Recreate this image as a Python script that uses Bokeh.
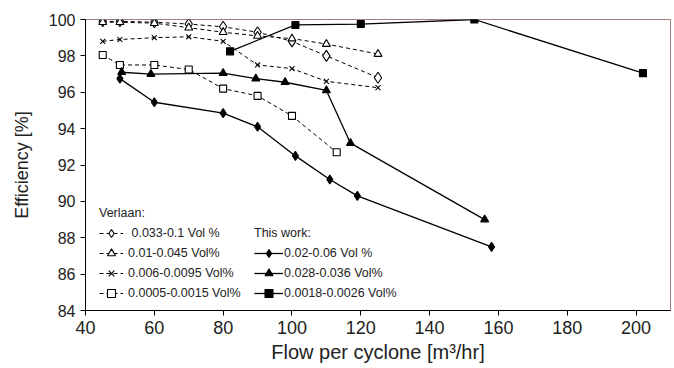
from bokeh.plotting import figure
from bokeh.models import Range1d, FixedTicker, Legend, LegendItem
from bokeh.embed import file_html
from bokeh.resources import INLINE

# ---- data ----
xticks = [40, 60, 80, 100, 120, 140, 160, 180, 200]
yticks = [84, 86, 88, 90, 92, 94, 96, 98, 100]

# Verlaan series
v1_label = "0.033-0.1 Vol %"
v1_x = [45, 50, 60, 70, 80, 90, 100, 110, 125]
v1_y = [99.9, 99.9, 99.85, 99.75, 99.6, 99.3, 98.8, 98.0, 96.8]

v2_label = "0.01-0.045 Vol%"
v2_x = [45, 50, 60, 70, 80, 90, 100, 110, 125]
v2_y = [99.85, 99.85, 99.8, 99.55, 99.3, 99.1, 98.95, 98.65, 98.1]

v3_label = "0.006-0.0095 Vol%"
v3_x = [45, 50, 60, 70, 80, 90, 100, 110, 125]
v3_y = [98.8, 98.9, 99.0, 99.05, 98.8, 97.5, 97.3, 96.6, 96.25]

v4_label = "0.0005-0.0015 Vol%"
v4_x = [45, 50, 60, 70, 80, 90, 100, 113]
v4_y = [98.05, 97.5, 97.5, 97.25, 96.2, 95.8, 94.7, 92.7]

# This work series
t1_label = "0.02-0.06 Vol %"
t1_x = [50, 60, 80, 90, 101, 111, 119, 158]
t1_y = [96.75, 95.45, 94.85, 94.1, 92.5, 91.2, 90.3, 87.5]

t2_label = "0.028-0.036 Vol%"
t2_x = [50.5, 59, 80, 89.5, 98, 110, 117, 156]
t2_y = [97.1, 97.0, 97.05, 96.75, 96.55, 96.1, 93.2, 89.0]

t3_label = "0.0018-0.0026 Vol%"
t3_x = [82, 101, 120, 153, 202]
t3_y = [98.25, 99.7, 99.75, 100.0, 97.05]

FONT = "Liberation Sans"
TXT = "#222222"

p = figure(width=674, height=368, output_backend="svg", toolbar_location=None,
           x_range=Range1d(40, 210), y_range=Range1d(84, 100),
           min_border_left=85, min_border_right=4, min_border_top=19,
           min_border_bottom=58)
p.background_fill_color = "white"
p.border_fill_color = "white"
p.grid.visible = False
p.outline_line_color = "#9c827a"
p.outline_line_width = 1

for ax in (p.xaxis[0], p.yaxis[0]):
    ax.axis_line_color = "black"
    ax.major_tick_line_color = "black"
    ax.minor_tick_line_color = None
    ax.major_tick_out = 5
    ax.major_tick_in = 0
    ax.major_label_text_font = FONT
    ax.axis_label_text_font = FONT
    ax.major_label_text_color = TXT
    ax.axis_label_text_color = TXT
    ax.axis_label_text_font_style = "normal"

p.xaxis.ticker = FixedTicker(ticks=xticks)
p.yaxis.ticker = FixedTicker(ticks=yticks)
p.xaxis.major_label_text_font_size = "18px"
p.yaxis.major_label_text_font_size = "16px"
p.xaxis.major_label_standoff = 5
p.yaxis.major_label_standoff = 5
p.xaxis.axis_label = "Flow per cyclone [m³/hr]"
p.yaxis.axis_label = "Efficiency [%]"
p.xaxis.axis_label_text_font_size = "20px"
p.yaxis.axis_label_text_font_size = "18px"
p.xaxis.axis_label_standoff = 4
p.yaxis.axis_label_standoff = 14

DASH = "4 3"

def series(xs, ys, marker, size, fill, dashed):
    ln = p.line(xs, ys, line_color="black", line_width=1.0 if dashed else 1.3,
                line_dash=DASH if dashed else "solid")
    sc = p.scatter(xs, ys, marker=marker, size=size, line_color="black",
                   line_width=1.1, fill_color=fill)
    return [ln, sc]

r_v1 = series(v1_x, v1_y, "diamond", 11, "white", True)
r_v2 = series(v2_x, v2_y, "triangle", 8, "white", True)
r_v3 = series(v3_x, v3_y, "x", 7, "white", True)
r_v4 = series(v4_x, v4_y, "square", 7, "white", True)
r_t1 = series(t1_x, t1_y, "diamond", 9, "black", False)
r_t2 = series(t2_x, t2_y, "triangle", 8, "black", False)
r_t3 = series(t3_x, t3_y, "square", 7, "black", False)

def make_legend(title, items, loc, gw, standoff):
    lg = Legend(items=[LegendItem(label=l, renderers=r) for l, r in items],
                location=loc, orientation="vertical",
                title=title, title_text_font=FONT, title_text_font_size="12.5px",
                title_text_font_style="normal", title_text_color=TXT,
                title_standoff=3,
                label_text_font=FONT, label_text_font_size="12.5px",
                label_text_color=TXT,
                glyph_width=gw, glyph_height=20, label_height=20,
                label_standoff=standoff, spacing=0, padding=0, margin=0,
                border_line_color=None, background_fill_alpha=0)
    p.add_layout(lg, "center")
    return lg

make_legend("Verlaan:", [(" " + v1_label, r_v1), (v2_label, r_v2),
                         (v3_label, r_v3), (v4_label, r_v4)],
            (14, 7), 24, 5)
make_legend("This work:", [(t1_label, r_t1), (t2_label, r_t2), (t3_label, r_t3)],
            (169, 7), 29, 1)

open("out.html", "w").write(file_html(p, INLINE))
